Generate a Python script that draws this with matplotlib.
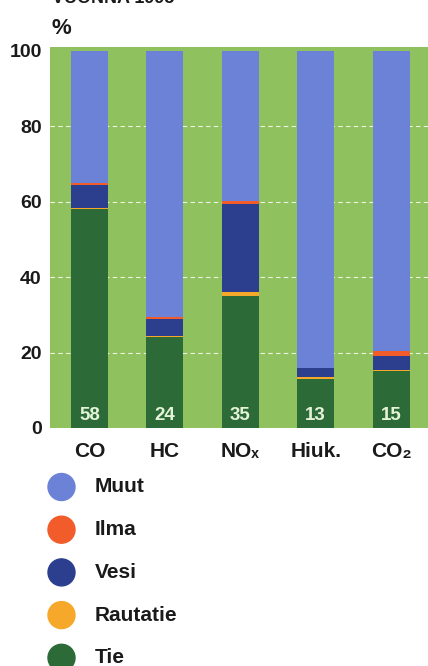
import matplotlib
matplotlib.use("Agg")
import matplotlib.pyplot as plt
from matplotlib.patches import Circle

plt.rcParams['font.family'] = ['Liberation Sans', 'DejaVu Sans']
plt.rcParams['font.weight'] = 'bold'

# Share of emissions by transport mode, %
categories = ["CO", "HC", "NOₓ", "Hiuk.", "CO₂"]
tie = [58, 24, 35, 13, 15]
rautatie = [0.3, 0.5, 1.0, 0.5, 0.5]
vesi = [6.0, 4.5, 23.5, 2.5, 3.5]
ilma = [0.7, 0.5, 0.8, 0.0, 1.5]
muut = [100 - a - b - c - d for a, b, c, d in zip(tie, rautatie, vesi, ilma)]

series = [("Tie", tie, "#2c6a37"),
          ("Rautatie", rautatie, "#f6a82a"),
          ("Vesi", vesi, "#2b3f8e"),
          ("Ilma", ilma, "#f25c2a"),
          ("Muut", muut, "#6c82d6")]
yticks = [0, 20, 40, 60, 80, 100]

W, H = 428, 666
fig = plt.figure(figsize=(W / 100, H / 100), dpi=100)
fig.patch.set_facecolor("white")

ax = fig.add_axes([50 / W, 1 - 428 / H, 378 / W, (428 - 47) / H])
ax.set_facecolor("#8fc15f")
x = list(range(len(categories)))
bottom = [0] * len(categories)
for name, vals, col in series:
    ax.bar(x, vals, width=0.49, bottom=bottom, color=col, zorder=2)
    bottom = [b + v for b, v in zip(bottom, vals)]

for yv in yticks[1:-1]:
    ax.axhline(yv, color="#eef6e0", lw=0.8, ls=(0, (4, 3)), zorder=1)

for xi, v in zip(x, tie):
    ax.text(xi, 3.3, str(v), ha="center", va="center", color="#e4f2d8",
            fontsize=13.5, fontweight="bold", zorder=3)

ax.set_xlim(-0.524, 4.49)
ax.set_ylim(0, 101)
ax.set_yticks(yticks)
ax.set_yticklabels([str(t) for t in yticks], fontsize=14, fontweight="bold", color="#1a1a1a")
ax.set_xticks(x)
ax.set_xticklabels(categories, fontsize=15, fontweight="bold", color="#1a1a1a")
ax.tick_params(length=0, pad=6)
ax.tick_params(axis="x", pad=10)
for s in ax.spines.values():
    s.set_visible(False)

fig.text(52 / W, 1 - 29 / H, "%", fontsize=16, fontweight="bold", color="#1a1a1a",
         ha="left", va="center")
fig.text(52 / W, 1 - 3 / H, "VUONNA 1995", fontsize=13, fontweight="bold",
         color="#1a1a1a", ha="left", va="baseline")

# Legend drawn as circles with labels
legend_items = [("Muut", "#6c82d6"), ("Ilma", "#f25c2a"), ("Vesi", "#2b3f8e"),
                ("Rautatie", "#f6a82a"), ("Tie", "#2c6a37")]
lax = fig.add_axes([0, 0, 1, 1], zorder=-1)
lax.set_xlim(0, W)
lax.set_ylim(H, 0)
lax.axis("off")
for i, (name, col) in enumerate(legend_items):
    yc = 487 + i * 42.7
    lax.add_patch(Circle((61.5, yc), 13.5, color=col))
    lax.text(95, yc, name, fontsize=15, fontweight="bold", color="#1a1a1a",
             ha="left", va="center")

fig.savefig("out.png", dpi=100)
